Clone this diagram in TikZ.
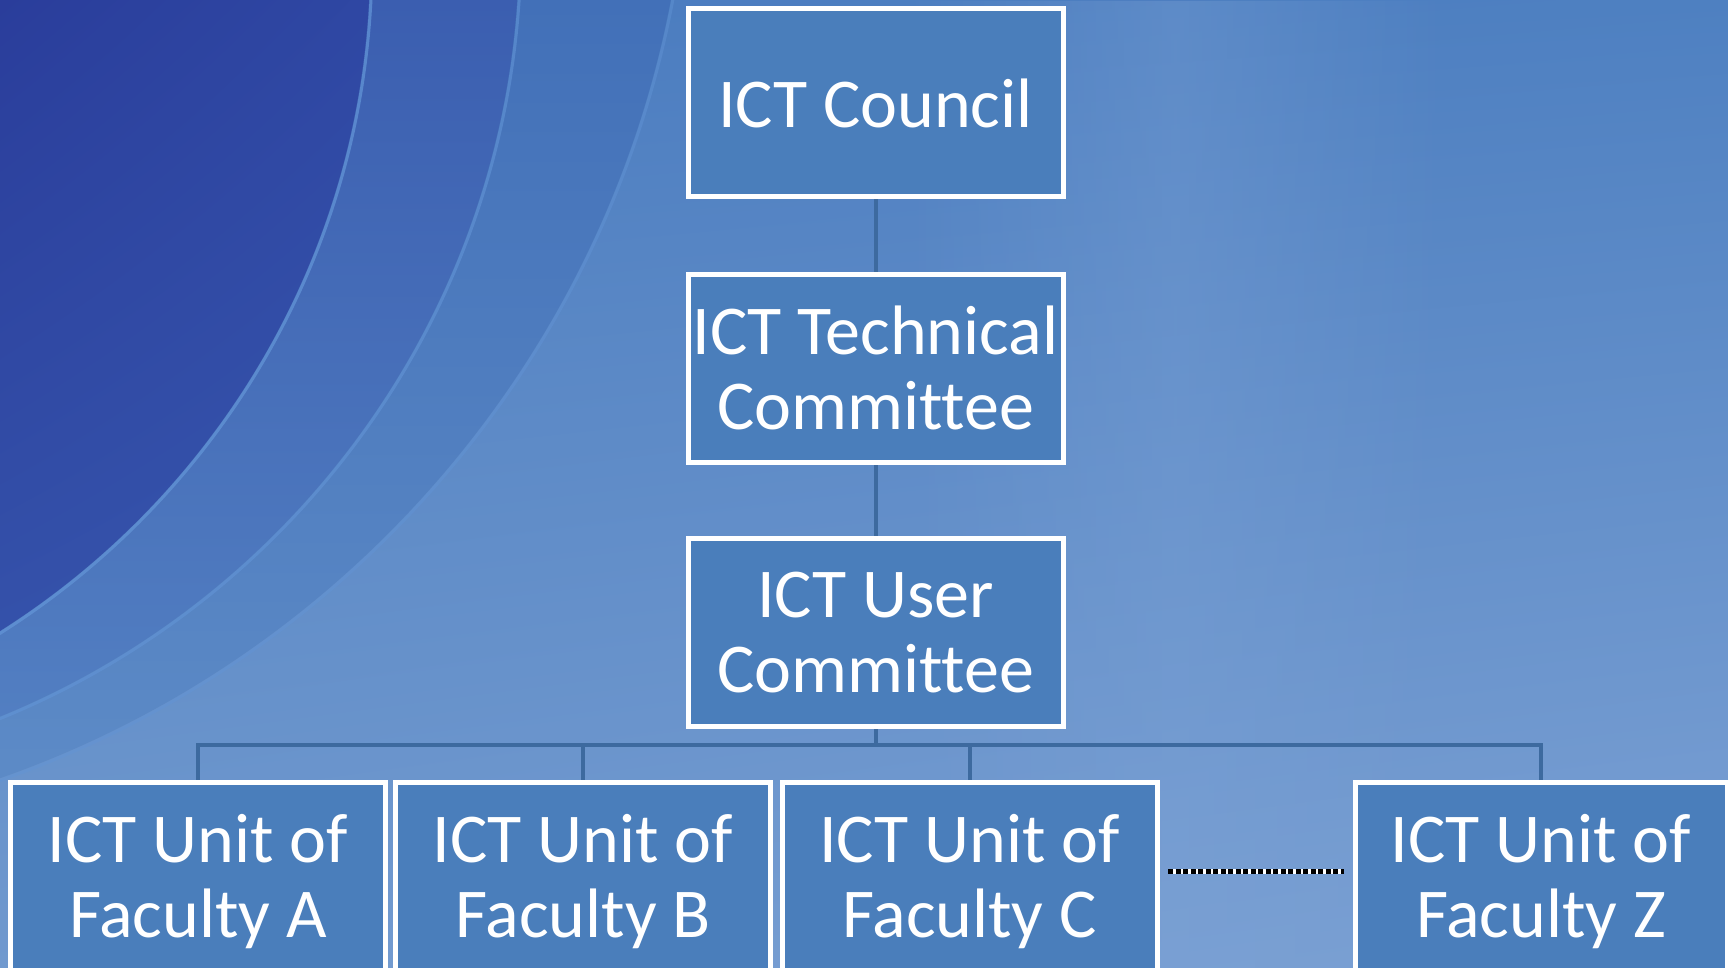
\documentclass[tikz,border=0pt]{standalone}
\usepackage{fontspec}
\setmainfont{Carlito}[Ligatures=NoCommon]
\usetikzlibrary{backgrounds,fadings,shadings}
\definecolor{boxblue}{HTML}{4A7EBB}
\definecolor{linkblue}{HTML}{3D6A9F}
\definecolor{bgUL}{HTML}{4A7BBF}
\definecolor{bgUR}{HTML}{4E80C1}
\definecolor{bgLL}{HTML}{7099CE}
\definecolor{bgLR}{HTML}{7CA1D4}
\definecolor{bandCtop}{HTML}{4270B8}
\definecolor{bandCbot}{HTML}{6391CA}
\definecolor{bandBtop}{HTML}{3B5EB0}
\definecolor{bandBbot}{HTML}{5A8AC8}
\definecolor{darkUL}{HTML}{2A3D9B}
\definecolor{darkUR}{HTML}{3350AA}
\definecolor{darkLL}{HTML}{3A5CB2}
\definecolor{darkLR}{HTML}{3D62B4}
\definecolor{arcline}{HTML}{6294D6}
\definecolor{midglow}{HTML}{7DA3D6}
\tikzfading[name=softband, left color=transparent!100, right color=transparent!100, middle color=transparent!0]
\begin{document}
\begin{tikzpicture}[x=1pt,y=-1pt,
  orgbox/.style={draw=white, line width=5pt, fill=boxblue, text=white,
    minimum width=375pt, minimum height=188pt, inner sep=0pt, align=center,
    font=\fontsize{70}{75}\selectfont},
  link/.style={draw=linkblue, line width=4pt},
  arcstroke/.style={draw=arcline, line width=3pt, opacity=0.75},
  dotline/.style={line width=5pt}]
\useasboundingbox (0,0) rectangle (1728,968);
\coordinate (arcA) at (-425,-41);
\coordinate (arcB) at (-315,-56);
\coordinate (arcCc) at (-341,-194);
% ---- background ----
\begin{pgfonlayer}{background}
\begin{scope}
  \clip (0,0) rectangle (1728,968);
  \shade[upper left=bgUL, upper right=bgUR, lower left=bgLL, lower right=bgLR] (0,0) rectangle (1728,968);
  \fill[midglow, opacity=0.35, path fading=softband] (900,0) rectangle (1450,968);
  \begin{scope}
    \clip (arcCc) circle[radius=1030];
    \shade[top color=bandCtop, bottom color=bandCbot] (0,0) rectangle (1728,968);
  \end{scope}
  \begin{scope}
    \clip (arcB) circle[radius=834];
    \shade[top color=bandBtop, bottom color=bandBbot] (0,0) rectangle (1728,968);
  \end{scope}
  \begin{scope}
    \clip (arcA) circle[radius=795];
    \shade[upper left=darkUL, upper right=darkUR, lower left=darkLL, lower right=darkLR] (0,0) rectangle (700,968);
  \end{scope}
  \draw[arcstroke] (arcA) circle[radius=797];
  \draw[arcstroke, opacity=0.6] (arcB) circle[radius=836];
  \draw[arcstroke, opacity=0.45] (arcCc) circle[radius=1032];
\end{scope}
\end{pgfonlayer}
% ---- nodes ----
\node[orgbox] (council) at (875.5,103) {ICT Council};
\node[orgbox] (tech) at (875.5,368) {ICT Technical\\Committee};
\node[orgbox] (user) at (875.5,632.5) {ICT User\\Committee};
\node[orgbox] (facA) at (198,876) {ICT Unit of\\Facult\smash{y} A};
\node[orgbox] (facB) at (583,876) {ICT Unit of\\Facult\smash{y} B};
\node[orgbox] (facC) at (969.5,876) {ICT Unit of\\Facult\smash{y} C};
\node[orgbox, minimum width=372pt] (facZ) at (1541,876) {ICT Unit of\\Facult\smash{y} Z};
\coordinate (bus) at (875.5,745);
\coordinate (dotL) at (1168,871);
\coordinate (dotR) at (1344,871);
% ---- connectors ----
\begin{pgfonlayer}{background}
\draw[link] (council.south) -- (tech.north);
\draw[link] (tech.south) -- (user.north);
\draw[link] (user.south) -- (bus);
\draw[link] (facA.north) -- (facA.north |- bus) -- (facZ.north |- bus) -- (facZ.north);
\draw[link] (facB.north) -- (facB.north |- bus);
\draw[link] (facC.north) -- (facC.north |- bus);
\end{pgfonlayer}
\draw[dotline, white] (dotL) -- (dotR);
\draw[dotline, black, dash pattern=on 5pt off 2.5pt] (dotL) -- (dotR);
\end{tikzpicture}
\end{document}
